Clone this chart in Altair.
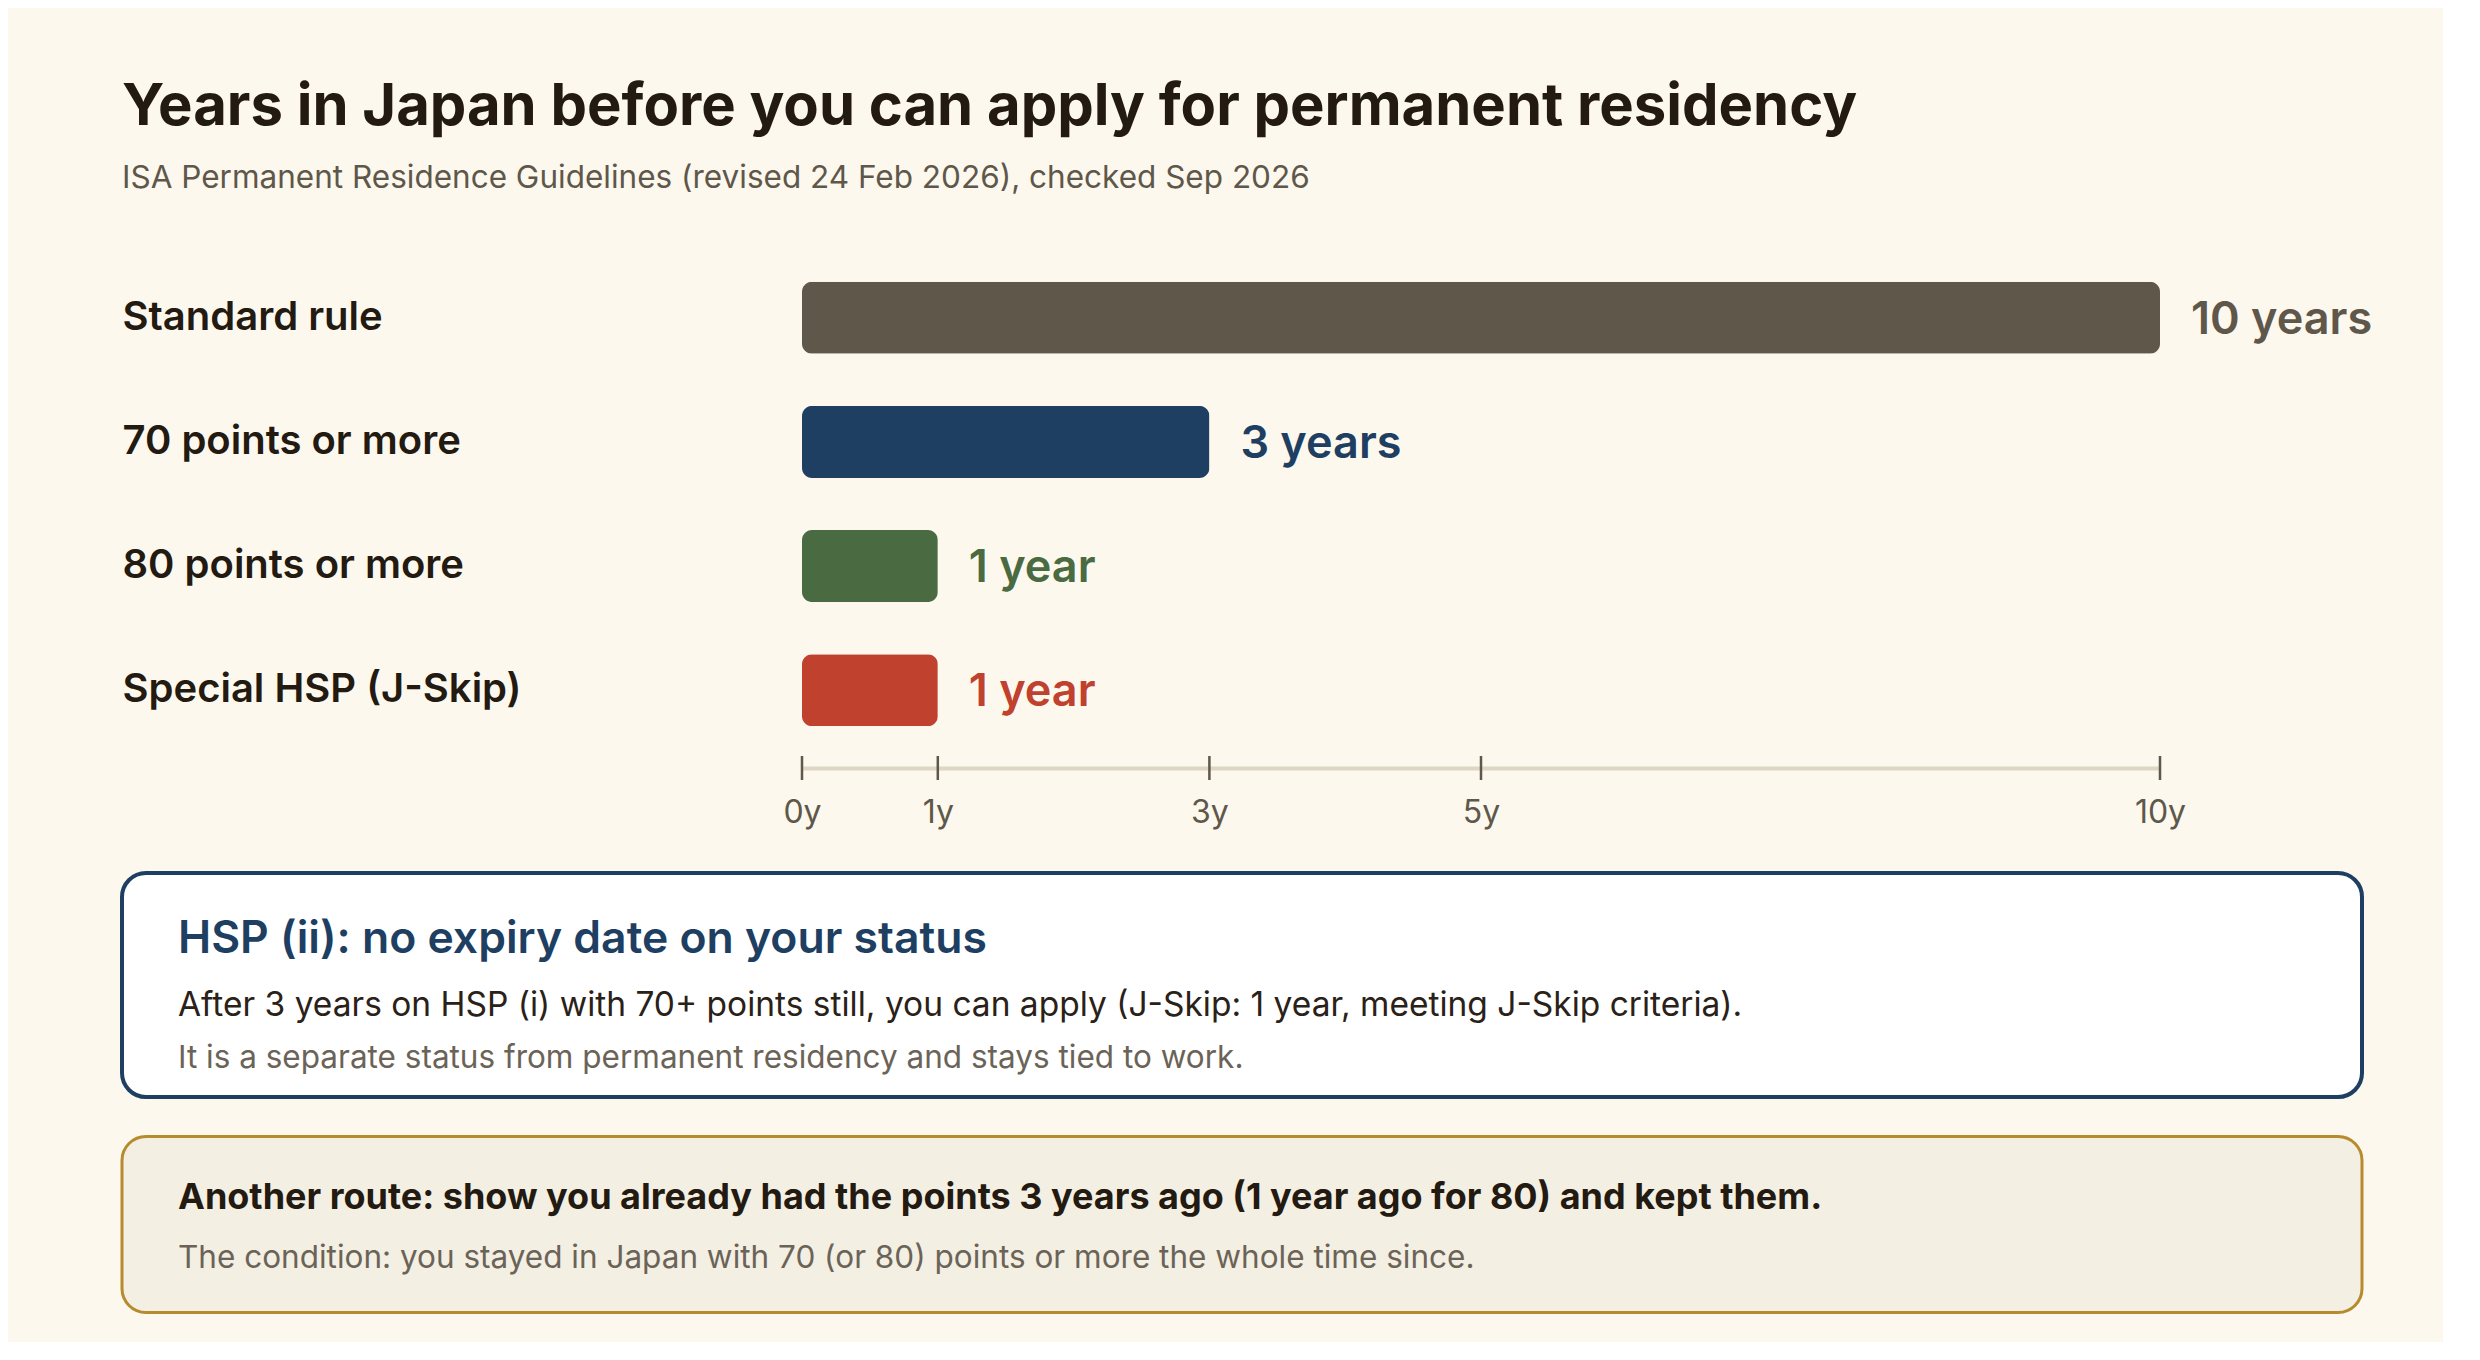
import altair as alt
import pandas as pd

# ---------------- data ----------------
TITLE = "Years in Japan before you can apply for permanent residency"
SUBTITLE = "ISA Permanent Residence Guidelines (revised 24 Feb 2026), checked Sep 2026"

ROWS = ["Standard rule", "70 points or more", "80 points or more", "Special HSP (J-Skip)"]
YEARS = [10, 3, 1, 1]
VALUE_LABELS = ["10 years", "3 years", "1 year", "1 year"]
TICKS = [0, 1, 3, 5, 10]

NOTE1_TITLE = "HSP (ii): no expiry date on your status"
NOTE1_BODY = "After 3 years on HSP (i) with 70+ points still, you can apply (J-Skip: 1 year, meeting J-Skip criteria)."
NOTE1_FOOT = "It is a separate status from permanent residency and stays tied to work."
NOTE2_TITLE = "Another route: show you already had the points 3 years ago (1 year ago for 80) and kept them."
NOTE2_BODY = "The condition: you stayed in Japan with 70 (or 80) points or more the whole time since."

# ---------------- style ----------------
FONT = "Inter"
BG = "#fcf8ee"
INK = "#231a11"
GRAY = "#5e574a"
SOFT = "#6b6357"
NAVY = "#1e3f62"
GOLD = "#b78a2e"
COLORS = ["#5e574a", "#1e3f62", "#4a6a41", "#c0412e"]

W = 2240
H = 528
X_RANGE = [680, 2038]

bars_df = pd.DataFrame({"row": ROWS, "years": YEARS, "label": VALUE_LABELS})
ticks_df = pd.DataFrame({"tick": TICKS})

x_scale = alt.Scale(domain=[0, 10], range=X_RANGE, nice=False, zero=True)
x_axis = alt.Axis(
    values=TICKS, labelExpr="datum.value + 'y'", title=None, grid=False,
    ticks=False, tickSize=0, domainColor="#ddd6c3", domainWidth=4,
    labelPadding=29, labelFontSize=32, labelColor=GRAY, labelFont=FONT,
    labelFlush=False, labelOverlap=False, zindex=0,
)
y_scale = alt.Scale(domain=ROWS, paddingInner=0.42, paddingOuter=0.337)
y_axis = alt.Axis(
    title=None, orient="left", labelAlign="left", labelBaseline="middle",
    labelPadding=0, tickSize=0, ticks=False, domain=False,
    labelFontSize=40, labelFontWeight=600, labelColor=INK, labelFont=FONT,
    labelLimit=800,
)
color_enc = alt.Color("row:N", scale=alt.Scale(domain=ROWS, range=COLORS), legend=None)

bars = alt.Chart(bars_df).mark_bar(cornerRadius=10).encode(
    x=alt.X("years:Q", scale=x_scale, axis=x_axis),
    y=alt.Y("row:N", sort=ROWS, scale=y_scale, axis=y_axis),
    color=color_enc,
)

values = alt.Chart(bars_df).mark_text(
    align="left", baseline="middle", dx=31, dy=2, font=FONT, fontSize=45, fontWeight=600
).encode(
    x=alt.X("years:Q", scale=x_scale, axis=x_axis),
    y=alt.Y("row:N", sort=ROWS, scale=y_scale, axis=y_axis),
    text="label:N",
    color=color_enc,
)

tick_marks = alt.Chart(ticks_df).mark_rule(color=GRAY, strokeWidth=2.5).encode(
    x=alt.X("tick:Q", scale=x_scale, axis=x_axis),
    y=alt.value(H - 12),
    y2=alt.value(H + 12),
)

box1 = alt.Chart(pd.DataFrame({"t": [NOTE1_TITLE]})).mark_rect(
    fill="#ffffff", stroke=NAVY, strokeWidth=4, cornerRadius=24
).encode(x=alt.value(0), x2=alt.value(W), y=alt.value(633), y2=alt.value(857))

box2 = alt.Chart(pd.DataFrame({"t": [NOTE2_TITLE]})).mark_rect(
    fill="#f3efe3", stroke=GOLD, strokeWidth=3, cornerRadius=24
).encode(x=alt.value(0), x2=alt.value(W), y=alt.value(896.5), y2=alt.value(1072.5))


def line(text, y, size, weight, color):
    return alt.Chart(pd.DataFrame({"text": [text]})).mark_text(
        align="left", baseline="alphabetic", font=FONT, fontSize=size,
        fontWeight=weight, color=color,
    ).encode(x=alt.value(56), y=alt.value(y), text="text:N")


lines = [
    line(NOTE1_TITLE, 713, 44.5, 600, NAVY),
    line(NOTE1_BODY, 776, 33.5, 400, "#2a2118"),
    line(NOTE1_FOOT, 828, 31.5, 400, SOFT),
    line(NOTE2_TITLE, 969, 36, 700, INK),
    line(NOTE2_BODY, 1028, 31.5, 400, SOFT),
]

chart = alt.layer(box1, box2, bars, tick_marks, values, *lines).properties(
    width=W,
    height=H,
    background=BG,
    padding={"left": 112, "top": 70, "right": 70, "bottom": 28},
    title=alt.TitleParams(
        text=TITLE, subtitle=SUBTITLE, anchor="start", frame="group",
        font=FONT, fontSize=58, fontWeight=700, color=INK,
        subtitleFont=FONT, subtitleFontSize=31.5, subtitleColor=GRAY,
        subtitlePadding=26, offset=46,
    ),
).configure_view(stroke=None)

chart.save("out.html", embed_options={"renderer": "svg", "actions": False})
